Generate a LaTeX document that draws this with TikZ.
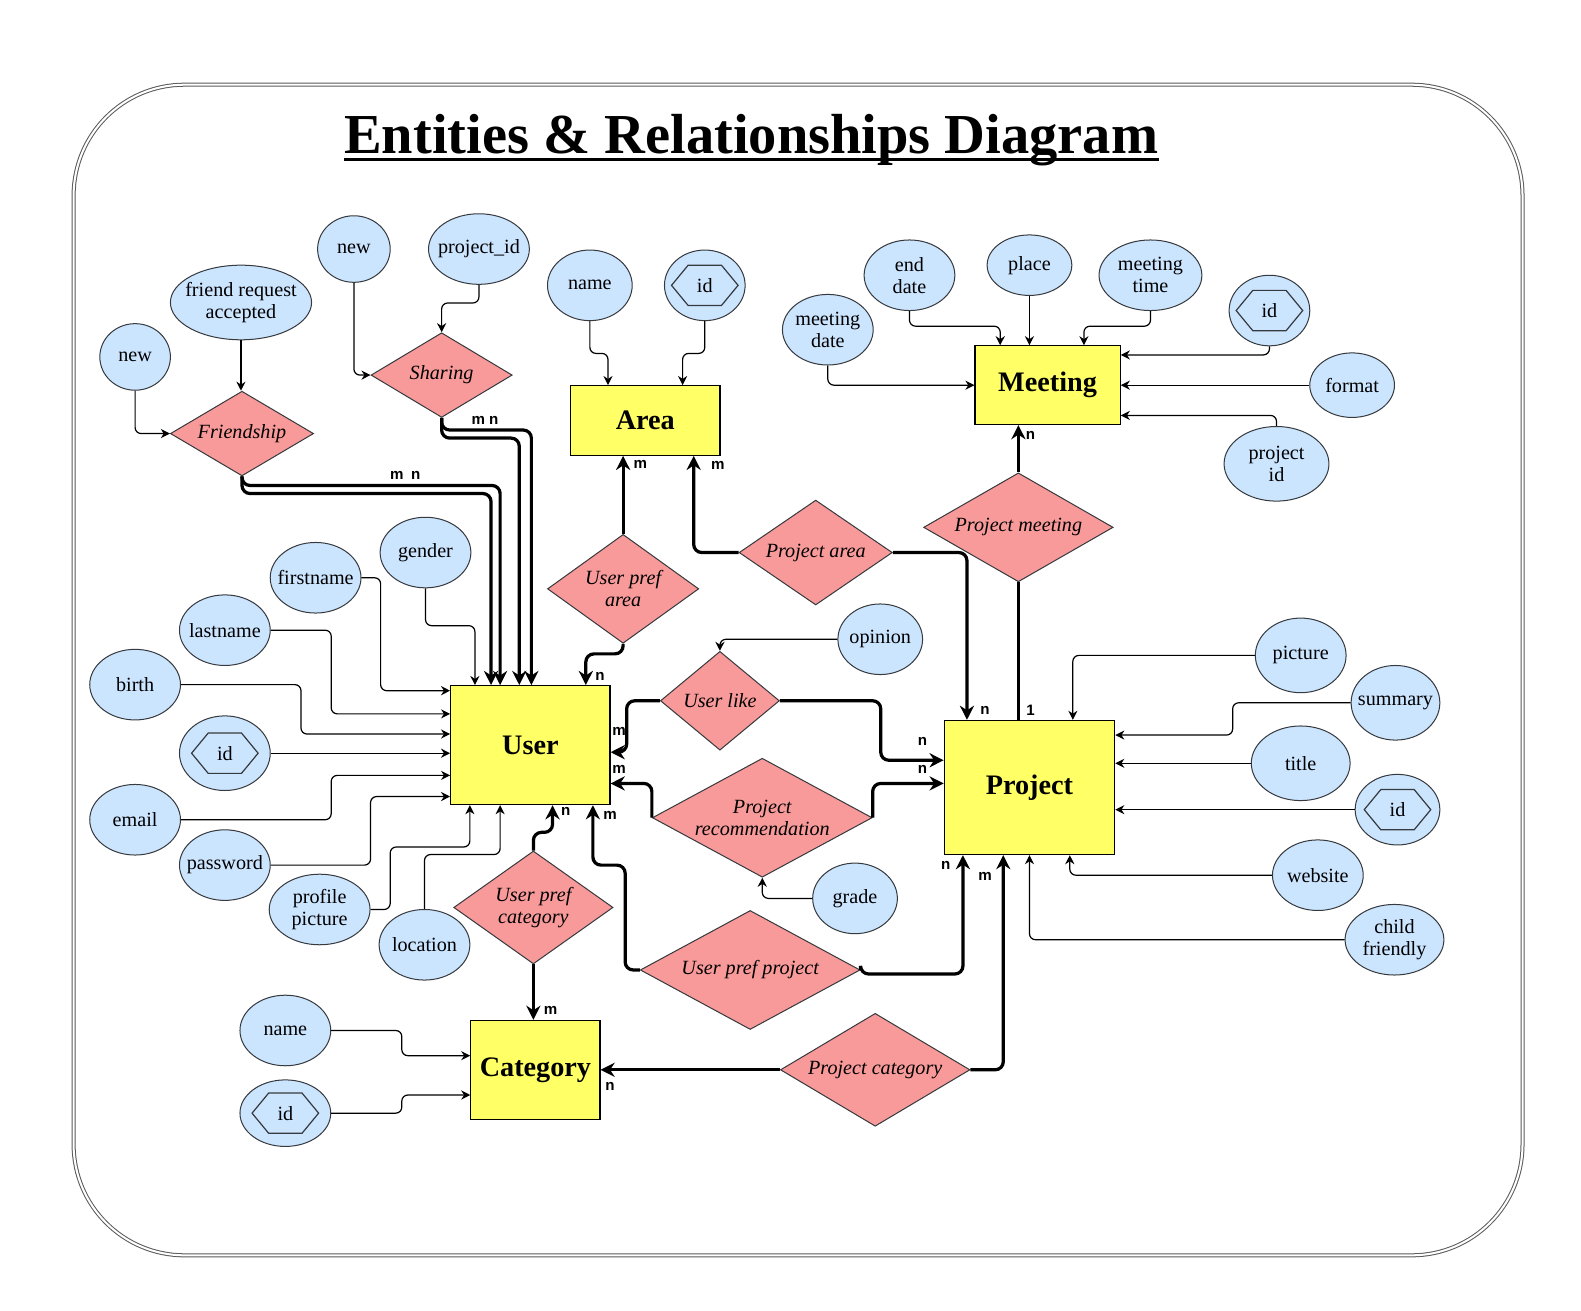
\documentclass[tikz,border=0pt]{standalone}
\usepackage{fontspec}
\setmainfont{Liberation Serif}
\newfontfamily\cardfont{Liberation Sans}
\usetikzlibrary{shapes.geometric,arrows.meta}
\definecolor{attrblue}{HTML}{CCE5FF}
\definecolor{attrline}{HTML}{36393D}
\definecolor{relpink}{HTML}{F89A9A}
\definecolor{entyellow}{HTML}{FFFF66}
\begin{document}
\begin{tikzpicture}[
        x=0.5pt, y=-0.5pt,
        entity/.style={draw, fill=entyellow, line width=0.6pt, inner sep=0pt, font=\fontsize{14}{16}\selectfont\bfseries},
        attr/.style={draw=attrline, fill=attrblue, ellipse, line width=0.5pt, inner xsep=-5pt, inner ysep=-3pt, align=center, font=\fontsize{10}{11}\selectfont},
        idattr/.style={attr, path picture={
            \draw[line width=0.6pt] ([xshift=-16.5pt]path picture bounding box.center) -- ++(8.25pt,10pt) -- ++(16.5pt,0pt)
                -- ++(8.25pt,-10pt) -- ++(-8.25pt,-10pt) -- ++(-16.5pt,0pt) -- cycle;}},
        rel/.style={draw=attrline, fill=relpink, diamond, line width=0.5pt, inner sep=0pt, align=center, font=\fontsize{10}{11}\selectfont\itshape},
        link/.style={draw, line width=0.6pt, rounded corners=3pt, -{Stealth[length=4.5pt,width=4.5pt]}},
        tie/.style={draw, line width=1.6pt, rounded corners=4pt, -{Stealth[length=7pt,width=7pt]}},
        card/.style={inner sep=0pt, font=\cardfont\bfseries\fontsize{7.5}{8}\selectfont}
    ]
    \useasboundingbox (0,0) rectangle (1568,1300);
    % frame and title
    \draw[draw=black!65, double=white, double distance=1pt, line width=0.5pt, rounded corners=55pt] (73,84) rectangle (1510,1245);
    \node[inner sep=0pt, anchor=base, font=\fontsize{28}{30}\selectfont\bfseries] (title) at (745,152) {Entities \& Relationships Diagram};
    \draw[line width=1.6pt] ([yshift=-3pt]title.base west) -- ([yshift=-3pt]title.base east);

    % entities
    \node[entity, minimum width=74pt, minimum height=34.5pt] (area) at (640,417) {Area};
    \node[entity, minimum width=72pt, minimum height=39pt] (meeting) at (1039,382) {Meeting};
    \node[entity, minimum width=79pt, minimum height=59pt] (user) at (526,739) {User};
    \node[entity, minimum width=84.5pt, minimum height=66.5pt] (project) at (1021,781) {Project};
    \node[entity, minimum width=64pt, minimum height=49pt] (category) at (531,1061) {Category};

    % relationships
    \node[rel, minimum width=71pt, minimum height=42pt, aspect=1.69] (friendship) at (240,430) {Friendship};
    \node[rel, minimum width=70pt, minimum height=42pt, aspect=1.67] (sharing) at (438,372) {Sharing};
    \node[rel, minimum width=75pt, minimum height=54pt, aspect=1.39] (uparea) at (618,584) {User pref\\area};
    \node[rel, minimum width=76pt, minimum height=52pt, aspect=1.46] (parea) at (809,548) {Project area};
    \node[rel, minimum width=94pt, minimum height=54pt, aspect=1.74] (pmeet) at (1010,523) {Project meeting};
    \node[rel, minimum width=59pt, minimum height=49pt, aspect=1.2] (ulike) at (714,695) {User like};
    \node[rel, minimum width=109pt, minimum height=59pt, aspect=1.85] (precom) at (756,811) {Project\\recommendation};
    \node[rel, minimum width=79pt, minimum height=56pt, aspect=1.41] (upcat) at (529,900) {User pref\\category};
    \node[rel, minimum width=109pt, minimum height=59pt, aspect=1.85] (upproj) at (744,962) {User pref project};
    \node[rel, minimum width=94pt, minimum height=56pt, aspect=1.68] (pcat) at (868,1061) {Project category};

    % attributes
    \node[attr, minimum width=35pt, minimum height=33pt] (fnew) at (134,354) {new};
    \node[attr, minimum width=70pt, minimum height=37pt] (freq) at (239,300) {friend request\\accepted};
    \node[attr, minimum width=36pt, minimum height=33pt] (snew) at (351,247) {new};
    \node[attr, minimum width=50pt, minimum height=35pt] (projid) at (475,247) {project\_id};
    \node[attr, minimum width=42pt, minimum height=35pt] (aname) at (585,283) {name};
    \node[idattr, minimum width=40pt, minimum height=35pt] (aid) at (699,283) {id};
    \node[attr, minimum width=45pt, minimum height=35pt] (mdate) at (821,327) {meeting\\date};
    \node[attr, minimum width=45pt, minimum height=35pt] (edate) at (902,273) {end\\date};
    \node[attr, minimum width=42pt, minimum height=30pt] (place) at (1021,263) {place};
    \node[attr, minimum width=51pt, minimum height=35pt] (mtime) at (1141,273) {meeting\\time};
    \node[idattr, minimum width=40pt, minimum height=35pt] (mid) at (1259,308) {id};
    \node[attr, minimum width=42pt, minimum height=32pt] (format) at (1341,382) {format};
    \node[attr, minimum width=52pt, minimum height=37pt] (mproj) at (1266,460) {project\\id};
    \node[attr, minimum width=45pt, minimum height=35pt] (gender) at (422,548) {gender};
    \node[attr, minimum width=45pt, minimum height=35pt] (fname) at (313,573) {firstname};
    \node[attr, minimum width=45pt, minimum height=35pt] (lname) at (223,625) {lastname};
    \node[attr, minimum width=45pt, minimum height=35pt] (birth) at (134,679) {birth};
    \node[idattr, minimum width=45pt, minimum height=37pt] (uid) at (223,747) {id};
    \node[attr, minimum width=45pt, minimum height=35pt] (email) at (134,813) {email};
    \node[attr, minimum width=45pt, minimum height=35pt] (pwd) at (223,858) {password};
    \node[attr, minimum width=50pt, minimum height=35pt] (ppic) at (317,902) {profile\\picture};
    \node[attr, minimum width=45pt, minimum height=35pt] (loc) at (421,937) {location};
    \node[attr, minimum width=42pt, minimum height=35pt] (opinion) at (873,634) {opinion};
    \node[attr, minimum width=42pt, minimum height=35pt] (grade) at (848,891) {grade};
    \node[attr, minimum width=45pt, minimum height=37pt] (pic) at (1290,650) {picture};
    \node[attr, minimum width=44pt, minimum height=37pt] (summ) at (1384,697) {summary};
    \node[attr, minimum width=49pt, minimum height=37pt] (title) at (1290,757) {title};
    \node[idattr, minimum width=42pt, minimum height=35pt] (pid) at (1386,803) {id};
    \node[attr, minimum width=45pt, minimum height=35pt] (web) at (1307,868) {website};
    \node[attr, minimum width=49pt, minimum height=35pt] (child) at (1383,932) {child\\friendly};
    \node[attr, minimum width=45pt, minimum height=35pt] (cname) at (283,1022) {name};
    \node[idattr, minimum width=45pt, minimum height=33pt] (cid) at (283,1104) {id};

    % attribute links
    \draw[link] (fnew.south) |- (friendship.west);
    \draw[link] (freq.south) -- (freq.south |- friendship.north);
    \draw[link] (snew.south) |- (sharing.west);
    \draw[link] (projid.south) -- ++(0,18) -| (sharing.north);
    \draw[link] (aname.south) -- ++(0,32) -| ([xshift=-18.5pt]area.north);
    \draw[link] (aid.south) -- ++(0,32) -| ([xshift=18.5pt]area.north);
    \draw[link] (mdate.south) |- (meeting.west);
    \draw[link] (edate.south) -- ++(0,15) -| ([xshift=-23.5pt]meeting.north);
    \draw[link] (place.south) -- (place.south |- meeting.north);
    \draw[link] (mtime.south) -- ++(0,15) -| ([xshift=18pt]meeting.north);
    \draw[link] (mid.south) |- ([yshift=15pt]meeting.east);
    \draw[link] (format.west) -- (meeting.east);
    \draw[link] (mproj.north) |- ([yshift=-15pt]meeting.east);
    \draw[link] (gender.south) -- ++(0,37) -| ([xshift=-27.5pt]user.north);
    \draw[link] (fname.east) -- ++(19,0) |- ([yshift=27pt]user.west);
    \draw[link] (lname.east) -- ++(60,0) |- ([yshift=15.5pt]user.west);
    \draw[link] (birth.east) -- ++(119,0) |- ([yshift=5.5pt]user.west);
    \draw[link] (uid.east) -- (uid.east -| user.west);
    \draw[link] (email.east) -- ++(149,0) |- ([yshift=-15pt]user.west);
    \draw[link] (pwd.east) -- ++(99,0) |- ([yshift=-25.5pt]user.west);
    \draw[link] (ppic.east) -| (387,840) -| ([xshift=-30pt]user.south);
    \draw[link] (loc.north) -- ++(0,-54) -| ([xshift=-15pt]user.south);
    \draw[link] (pic.west) -| ([xshift=21.5pt]project.north);
    \draw[link] (summ.west) -- ++(-117,0) |- ([yshift=26pt]project.east);
    \draw[link] (title.west) -- (title.west -| project.east);
    \draw[link] (pid.west) -- (pid.west -| project.east);
    \draw[link] (web.west) -| ([xshift=20pt]project.south);
    \draw[link] (child.west) -| (project.south);
    \draw[link] (cname.east) -- ++(70,0) |- ([yshift=7pt]category.west);
    \draw[link] (cid.east) -- ++(70,0) |- ([yshift=-12.5pt]category.west);
    \draw[link] (opinion.west) -| (ulike.north);
    \draw[link] (grade.west) -| (precom.south);

    % relationship ties
    \draw[tie] (friendship.south) -- ++(0,9) -| ([xshift=-15pt]user.north);
    \draw[tie] (friendship.south) -- ++(0,17) -| ([xshift=-19.5pt]user.north);
    \draw[tie] (sharing.south) -- ++(0,12) -| ([xshift=0.5pt]user.north);
    \draw[tie] (sharing.south) -- ++(0,20) -| ([xshift=-5.5pt]user.north);
    \draw[tie] (uparea.north) -- (uparea.north |- area.south);
    \draw[tie] (uparea.south) -- ++(0,10) -| ([xshift=27.5pt]user.north);
    \draw[tie] (parea.west) -| ([xshift=24pt]area.south);
    \draw[tie] (parea.east) -| ([xshift=-31pt]project.north);
    \draw[tie] (pmeet.north) -- (pmeet.north |- meeting.south);
    \draw[line width=1.6pt] (pmeet.south) -- (pmeet.south |- project.north);
    \draw[tie] (ulike.west) -- ++(-33,0) |- ([yshift=-3.5pt]user.east);
    \draw[tie] (ulike.east) -- ++(100,0) |- ([yshift=13.5pt]project.west);
    \draw[tie] (precom.west) |- ([yshift=-19pt]user.east);
    \draw[tie] (precom.east) |- ([yshift=2pt]project.west);
    \draw[tie] (upcat.north) -- ++(0,-18) -| ([xshift=11pt]user.south);
    \draw[tie] (upcat.south) -- (upcat.south |- category.north);
    \draw[tie] (upproj.west) -| (620,858) -| ([xshift=31pt]user.south);
    \draw[tie] (upproj.east) -- ++(0,4) -| ([xshift=-33pt]project.south);
    \draw[tie] (pcat.west) -- (category.east);
    \draw[tie] (pcat.east) -| ([xshift=-13pt]project.south);

    % cardinalities
    \node[card] (c1) at (402,472) {m\enspace n};
    \node[card] (c2) at (481,417) {m n};
    \node[card] (c3) at (635,461) {m};
    \node[card] (c4) at (712,462) {m};
    \node[card] (c5) at (1022,432) {n};
    \node[card] (c6) at (595,671) {n};
    \node[card] (c7) at (977,705) {n};
    \node[card] (c8) at (1022,704) {1};
    \node[card] (c9) at (614,725) {m};
    \node[card] (c10) at (915,735) {n};
    \node[card] (c11) at (614,763) {m};
    \node[card] (c12) at (915,763) {n};
    \node[card] (c13) at (561,805) {n};
    \node[card] (c14) at (605,809) {m};
    \node[card] (c15) at (938,858) {n};
    \node[card] (c16) at (977,869) {m};
    \node[card] (c17) at (546,1002) {m};
    \node[card] (c18) at (605,1077) {n};
\end{tikzpicture}
\end{document}
